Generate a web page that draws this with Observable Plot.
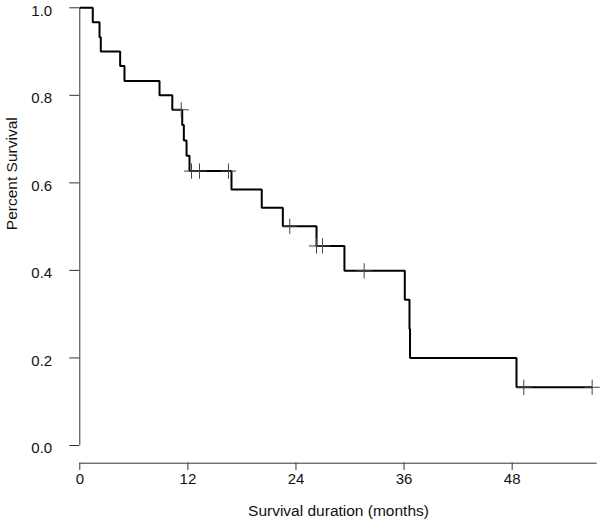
<!DOCTYPE html>
<html>
<head>
<meta charset="utf-8">
<script src="https://cdn.jsdelivr.net/npm/d3@7"></script>
<script src="https://cdn.jsdelivr.net/npm/@observablehq/plot@0.6"></script>
<style>
  html, body { margin: 0; padding: 0; background: #fff; }
  #chart svg { display: block; }
</style>
</head>
<body>
<div id="chart"></div>
<script>
// Kaplan–Meier step curve (time in months, survival proportion)
const stepTime = [0, 1.44, 2.19, 2.33, 4.48, 4.96, 8.85, 10.27, 11.37, 11.55, 11.85, 12.18, 16.84, 20.2, 22.54, 26.28, 29.38, 36.08, 36.6, 36.66, 48.48, 56.88];
const stepSurv = [1, 0.967, 0.933, 0.9, 0.867, 0.833, 0.8, 0.767, 0.732, 0.697, 0.662, 0.627, 0.585, 0.543, 0.501, 0.456, 0.399, 0.333, 0.266, 0.2, 0.133, 0.133];
// Censored observations
const censorTime = [11.26, 12.40, 13.29, 16.5, 23.31, 26.28, 26.94, 31.57, 49.29, 56.88];
const censorSurv = [0.767, 0.627, 0.627, 0.627, 0.501, 0.456, 0.456, 0.399, 0.133, 0.133];
// Axis ticks
const xTicks = [0, 12, 24, 36, 48];
const yTicks = [0, 0.2, 0.4, 0.6, 0.8, 1.0];
const xMax = 57.44;
const xTitle = "Survival duration (months)";
const yTitle = "Percent Survival";

const fmt = d3.format(".1f");
const axisColor = "#333";

const chart = Plot.plot({
  width: 600,
  height: 522,
  marginLeft: 79.3,
  marginRight: 3.3,
  marginTop: 7.3,
  marginBottom: 77,
  style: { fontFamily: "'Liberation Sans', Arial, sans-serif", fontSize: "15px", color: "#111", background: "#fff" },
  x: { domain: [0, xMax], axis: null },
  y: { domain: [0, 1], axis: null },
  marks: [
    // y axis line, ticks, labels
    Plot.ruleX([0], { y1: 0, y2: 1, stroke: axisColor, strokeWidth: 1 }),
    Plot.axisY({ ticks: yTicks, tickSize: 10, tickFormat: () => "", stroke: axisColor, label: null }),
    Plot.text(yTicks, { y: d => d, frameAnchor: "left", text: d => fmt(d), textAnchor: "end", dx: -27.6, dy: 3, fontSize: 15, fill: "#111" }),
    // x axis (offset below the panel)
    Plot.ruleY([0], { x1: 0, x2: xMax, dy: 17.7, stroke: axisColor, strokeWidth: 1 }),
    Plot.axisX({ ticks: xTicks, tickSize: 7.3, tickPadding: 3, dy: 17.7, stroke: axisColor, fontSize: 15, label: null }),
    // titles
    Plot.text([xTitle], { frameAnchor: "bottom", dy: 66, text: d => d, fontSize: 15.5, fill: "#111", lineAnchor: "middle" }),
    Plot.text([yTitle], { frameAnchor: "left", dx: -68, dy: 3.5, rotate: -90, text: d => d, fontSize: 15.5, fill: "#111", lineAnchor: "middle" }),
    // survival curve
    Plot.line(stepTime, { x: stepTime, y: stepSurv, curve: "step-after", stroke: "#000", strokeWidth: 2, strokeLinejoin: "miter", strokeLinecap: "butt" }),
    // censor marks
    Plot.dot(censorTime, { x: censorTime, y: censorSurv, symbol: "plus", r: 5, stroke: "#444", strokeWidth: 1 })
  ]
});

document.getElementById("chart").appendChild(chart);
</script>
</body>
</html>
